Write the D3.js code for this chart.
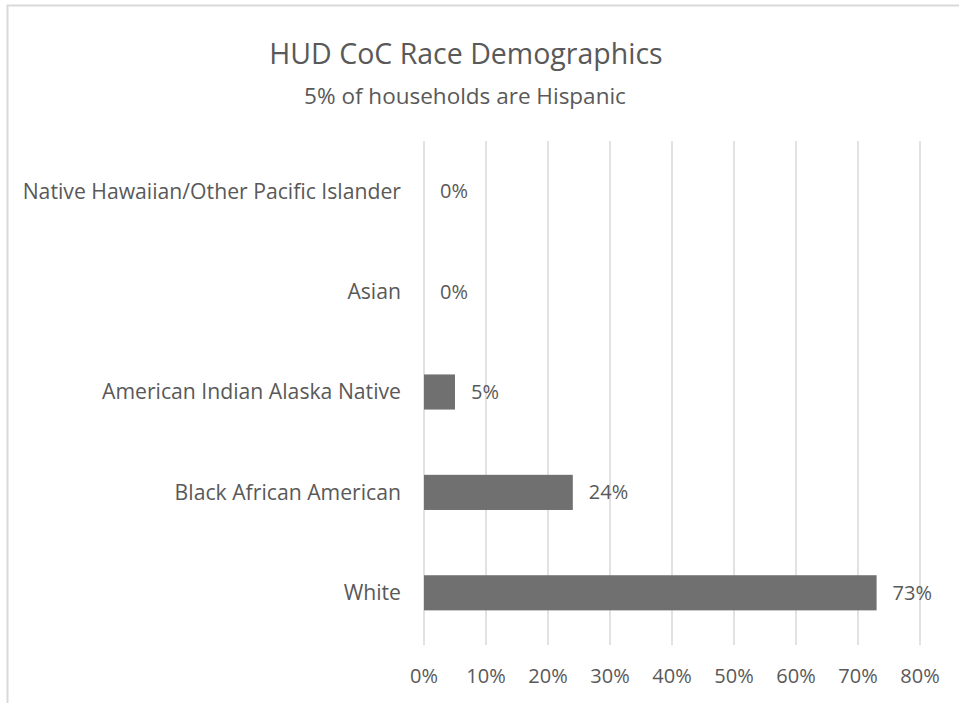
<!DOCTYPE html>
<html><head><meta charset="utf-8">
<script src="https://cdn.jsdelivr.net/npm/d3@7"></script>
<style>body{margin:0;background:#fff}text{font-family:"Open Sans",sans-serif}</style>
</head><body>
<svg id="c" width="959" height="703"></svg>
<script>
const categories = ["Native Hawaiian/Other Pacific Islander","Asian","American Indian Alaska Native","Black African American","White"];
const values = [0, 0, 5, 24, 73];
const tickValues = [0,10,20,30,40,50,60,70,80];
const title = "HUD CoC Race Demographics";
const subtitle = "5% of households are Hispanic";

const svg = d3.select("#c");
svg.append("rect").attr("x",0).attr("y",0).attr("width",959).attr("height",703).attr("fill","#fff");
svg.append("path").attr("d","M7.5,703 V5.5 H959").attr("fill","none").attr("stroke","#d9d9d9").attr("stroke-width",2);

const x = d3.scaleLinear().domain([0,80]).range([424,920]);
const y = d3.scaleBand().domain(categories).range([141,643]).paddingInner(0.65).paddingOuter(0.325);

const g = svg.append("g");
g.selectAll("line.grid").data(tickValues).join("line")
  .attr("x1",d=>x(d)).attr("x2",d=>x(d)).attr("y1",141).attr("y2",645)
  .attr("stroke","#d9d9d9").attr("stroke-width",1.5);

g.selectAll("rect.bar").data(values).join("rect")
  .attr("x",x(0)).attr("y",(d,i)=>y(categories[i]))
  .attr("width",d=>x(d)-x(0)).attr("height",y.bandwidth()).attr("fill","#707070");

g.selectAll("text.val").data(values).join("text")
  .attr("x",d=>x(d)+16).attr("y",(d,i)=>y(categories[i])+y.bandwidth()/2)
  .attr("dy","0.35em").attr("font-size",20).attr("fill","#595959").text(d=>d+"%");

g.selectAll("text.cat").data(categories).join("text")
  .attr("x",401).attr("y",d=>y(d)+y.bandwidth()/2).attr("dy","0.35em")
  .attr("text-anchor","end").attr("font-size",21.2).attr("fill","#595959").text(d=>d);

g.selectAll("text.tick").data(tickValues).join("text")
  .attr("x",d=>x(d)).attr("y",676).attr("dy","0.35em").attr("text-anchor","middle")
  .attr("font-size",20).attr("fill","#595959").text(d=>d+"%");

svg.append("text").attr("x",466).attr("y",64).attr("text-anchor","middle").attr("font-size",28.5).attr("fill","#595959").text(title);
svg.append("text").attr("x",465).attr("y",104).attr("text-anchor","middle").attr("font-size",22.5).attr("fill","#595959").text(subtitle);
</script>
</body></html>
